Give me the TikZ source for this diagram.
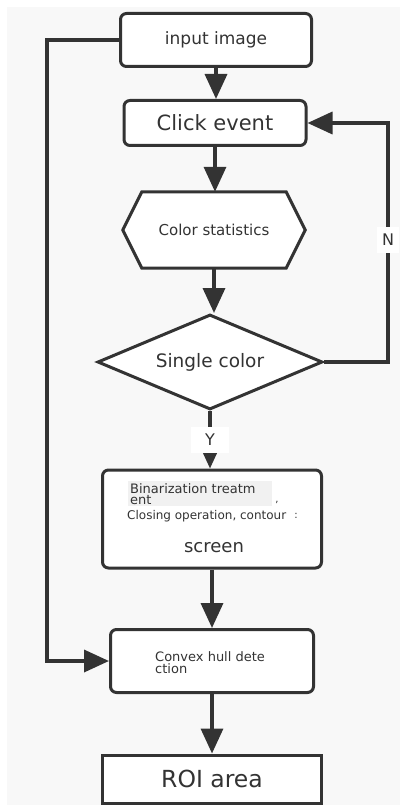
\documentclass[tikz,border=0pt]{standalone}
\usepackage{fontspec}
\setmainfont{DejaVu Sans}
\usetikzlibrary{shapes.geometric,arrows.meta,calc}
\definecolor{ink}{HTML}{333333}
\definecolor{bg}{HTML}{F8F8F8}
\definecolor{hl}{HTML}{F1F1F1}
\begin{document}
\begin{tikzpicture}[x=1pt,y=-1pt,
 box/.style={draw=ink, line width=3pt, rounded corners=6pt, fill=white, text=ink, inner sep=0pt},
 flow/.style={draw=ink, line width=3.5pt, -{Triangle[length=25pt,width=22pt]}},
 lbl/.style={fill=white, text=ink, font=\fontsize{16}{18}\selectfont, inner sep=0pt},
 txt/.style={text=ink, inner sep=0pt}]
\useasboundingbox (0,0) rectangle (405,805);
\fill[white] (0,0) rectangle (405,805);
\fill[bg] (7,7) rectangle (400,805);
% nodes
\node[box, minimum width=191pt, minimum height=53pt, font=\fontsize{17}{20}\selectfont] (input) at (216,40) {input image};
\node[box, minimum width=182pt, minimum height=45pt, font=\fontsize{21}{24}\selectfont] (click) at (215,123) {Click event};
\node[minimum width=182pt, minimum height=76pt, inner sep=0pt] (hex) at (214,230) {};
\draw[ink, line width=3pt, fill=white, line join=miter] (hex.west) -- ($(hex.north west)+(19,0)$) -- ($(hex.north east)+(-19,0)$) -- (hex.east) -- ($(hex.south east)+(-19,0)$) -- ($(hex.south west)+(19,0)$) -- cycle;
\node[txt, font=\fontsize{15}{18}\selectfont] (hextext) at (hex.center) {Color statistics};
\node[diamond, draw=ink, line width=3pt, fill=white, minimum width=225pt, minimum height=95pt, inner sep=0pt] (single) at (210,362) {};
\node[txt, font=\fontsize{18.5}{21}\selectfont] (singletext) at (single.center) {Single color};
\node[box, minimum width=219pt, minimum height=98pt] (bin) at (212,519) {};
\fill[hl] (128,481) rectangle (272,506);
\node[txt, anchor=west, align=left, font=\fontsize{13}{11.5}\selectfont] (bin1) at (130,494) {Binarization treatm\\ent};
\node[txt, font=\fontsize{10}{10}\selectfont] (bin2p) at (277,502) {,};
\node[txt, anchor=west, font=\fontsize{12}{13}\selectfont] (bin3) at (127,516) {Closing operation, contour};
\node[txt, font=\fontsize{10}{10}\selectfont] (bin3p) at (296,516) {:};
\node[txt, font=\fontsize{18}{21}\selectfont] (bin4) at (214,548) {screen};
\node[box, minimum width=203pt, minimum height=63pt] (convex) at (212,661) {};
\node[txt, anchor=west, align=left, font=\fontsize{13}{12}\selectfont] (conv1) at (155,663) {Convex hull dete\\ction};
\node[draw=ink, line width=3pt, fill=white, text=ink, minimum width=219pt, minimum height=48pt, inner sep=0pt, font=\fontsize{23.5}{26}\selectfont] (roi) at (212,779) {ROI area};
% loop rails
\coordinate (lx) at (47,0);
\coordinate (rx) at (388,0);
% connectors
\draw[flow] (input.south) -- (input.south |- click.north);
\draw[flow] (click.south) -- (click.south |- hex.north);
\draw[flow] (hex.south) -- (hex.south |- single.north);
\draw[flow] (single.south) -- (single.south |- bin.north) node[lbl, midway, minimum width=38pt, minimum height=26pt] (ylab) {Y};
\draw[flow] (bin.south) -- (bin.south |- convex.north);
\draw[flow] (convex.south) -- (convex.south |- roi.north);
\draw[flow, line join=miter] (input.west) -- (input.west -| lx) -- (convex.west -| lx) -- (convex.west);
\draw[flow, line join=miter] (single.east) -- (single.east -| rx) -- (click.east -| rx) -- (click.east);
\node[lbl, minimum width=22pt, minimum height=26pt] (nlab) at (388,240) {N};
\end{tikzpicture}
\end{document}
